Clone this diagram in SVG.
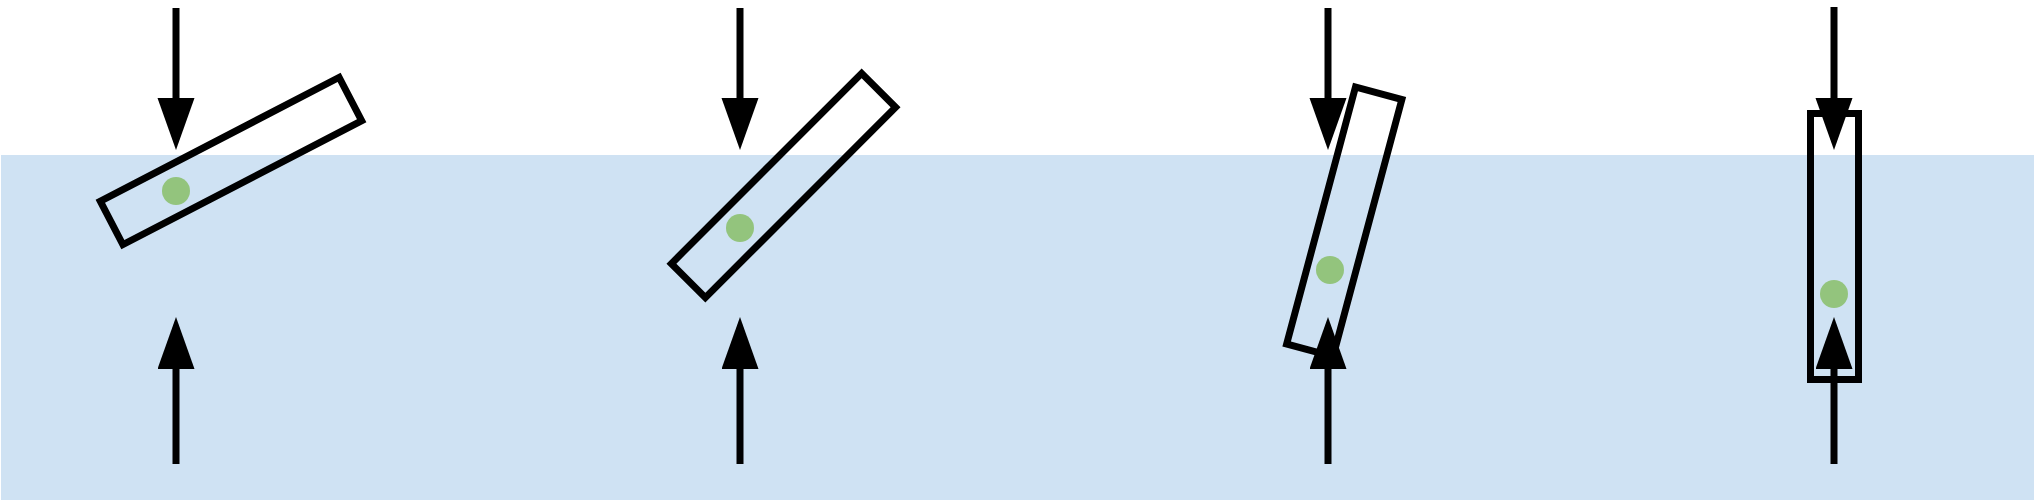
<svg xmlns="http://www.w3.org/2000/svg" width="2038" height="502" viewBox="0 0 2038 502">
  <defs>
    <style>
      .water { fill: #cfe2f3; }
      .body { fill: none; stroke: #000000; stroke-width: 7; stroke-linejoin: miter; }
      .cg { fill: #93c47d; }
      .arrow { stroke: #000000; stroke-width: 7; fill: none; marker-end: url(#head); }
    </style>
    <marker id="head" markerUnits="userSpaceOnUse" markerWidth="53" markerHeight="38" refX="0" refY="18.5" orient="auto" viewBox="0 0 53 38">
      <path d="M0,0 L52,18.5 L0,37 Z" fill="#000000"/>
    </marker>
  </defs>
  <rect width="2038" height="502" fill="#ffffff"/>
  <g id="water">
    <rect class="water" x="1" y="155" width="2033" height="345"/>
  </g>
  <g id="body1" transform="translate(231,161) rotate(-27.4)">
    <rect class="body" x="-134.5" y="-24.5" width="269" height="49"/>
  </g>
  <g id="body2" transform="translate(783.5,185.5) rotate(-45)">
    <rect class="body" x="-134.5" y="-24" width="269" height="48"/>
  </g>
  <g id="body3" transform="translate(1344.25,221.75) rotate(15)">
    <rect class="body" x="-24" y="-133" width="48" height="266"/>
  </g>
  <g id="body4">
    <rect class="body" x="1810.5" y="113.5" width="48" height="266"/>
  </g>
  <g id="cg-points">
    <circle id="cg1" class="cg" cx="176" cy="191" r="14"/>
    <circle id="cg2" class="cg" cx="740" cy="228" r="14"/>
    <circle id="cg3" class="cg" cx="1330" cy="270" r="14"/>
    <circle id="cg4" class="cg" cx="1834" cy="294" r="14"/>
  </g>
  <g id="connectors">
    <line class="arrow" x1="176" y1="8" x2="176" y2="98"/>
    <line class="arrow" x1="176" y1="464" x2="176" y2="369"/>
    <line class="arrow" x1="740" y1="8" x2="740" y2="98"/>
    <line class="arrow" x1="740" y1="464" x2="740" y2="369"/>
    <line class="arrow" x1="1328" y1="8" x2="1328" y2="98"/>
    <line class="arrow" x1="1328" y1="464" x2="1328" y2="369"/>
    <line class="arrow" x1="1834" y1="7" x2="1834" y2="98"/>
    <line class="arrow" x1="1834" y1="464" x2="1834" y2="369"/>
  </g>
</svg>
